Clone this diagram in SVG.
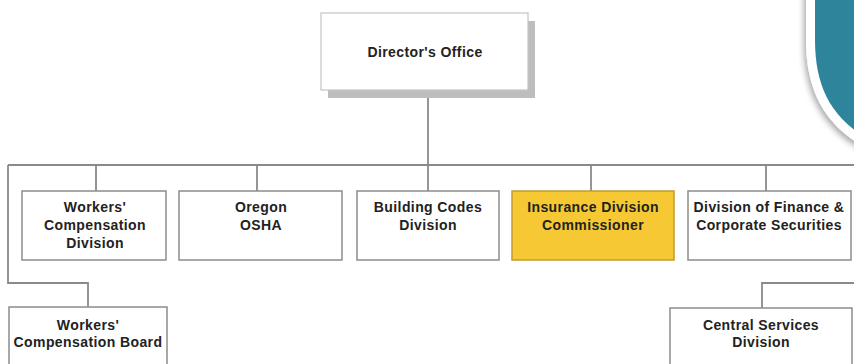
<svg xmlns="http://www.w3.org/2000/svg" width="854" height="364" viewBox="0 0 854 364">
  <style>
    .box { fill: #ffffff; stroke: #8c8c8c; stroke-width: 1.5; }
    .hl { fill: #f6c934; stroke: #c49a2c; stroke-width: 1.5; }
    .wire { fill: none; stroke: #8a8a8a; stroke-width: 1.8; }
    .lbl { font-family: "Liberation Sans", Arial, sans-serif; font-size: 14px; font-weight: bold; fill: #222; text-anchor: middle; letter-spacing: 0.4px; }
  </style>
  <defs>
    <filter id="soft" x="-30%" y="-30%" width="160%" height="160%">
      <feDropShadow dx="-2" dy="3" stdDeviation="3" flood-color="#000" flood-opacity="0.35"/>
    </filter>
  </defs>

  <rect width="854" height="364" fill="#ffffff"/>

  <!-- corner badge -->
  <path d="M815,-20 V40 C815,85 830,118 870,140 V-20 Z" fill="#2e849b" stroke="#ffffff" stroke-width="18" paint-order="stroke" filter="url(#soft)"/>

  <!-- connectors -->
  <g id="connectors">
    <path class="wire" d="M428,90 V165"/>
    <path class="wire" d="M8,165 H854"/>
    <path class="wire" d="M96,165 V191 M257,165 V191 M428,165 V191 M591,165 V191 M766,165 V191"/>
    <path class="wire" d="M8,165 V283 H88 V307" stroke="#9a9a9a"/>
    <path class="wire" d="M854,283 H762 V308"/>
  </g>

  <g id="directors-office">
    <rect x="328" y="21" width="207" height="77" fill="#bdbdbd"/>
    <rect x="321" y="13" width="207" height="77" fill="#ffffff" stroke="#c4c4c4" stroke-width="1.2"/>
    <text class="lbl" x="425" y="57">Director's Office</text>
  </g>

  <g id="workers-comp-division">
    <rect class="box" x="22" y="191" width="144" height="69"/>
    <text class="lbl" x="95" y="212">Workers'</text>
    <text class="lbl" x="95" y="230">Compensation</text>
    <text class="lbl" x="95" y="248">Division</text>
  </g>

  <g id="oregon-osha">
    <rect class="box" x="179" y="191" width="163" height="69"/>
    <text class="lbl" x="261" y="212">Oregon</text>
    <text class="lbl" x="261" y="230">OSHA</text>
  </g>

  <g id="building-codes">
    <rect class="box" x="357" y="191" width="142" height="69"/>
    <text class="lbl" x="428" y="212">Building Codes</text>
    <text class="lbl" x="428" y="230">Division</text>
  </g>

  <g id="insurance-division">
    <rect class="hl" x="512" y="191" width="162" height="69"/>
    <text class="lbl" x="593" y="212">Insurance Division</text>
    <text class="lbl" x="593" y="230">Commissioner</text>
  </g>

  <g id="finance-securities">
    <rect class="box" x="688" y="191" width="163" height="69"/>
    <text class="lbl" x="769" y="212">Division of Finance &amp;</text>
    <text class="lbl" x="769" y="230">Corporate Securities</text>
  </g>

  <g id="workers-comp-board">
    <rect class="box" x="9" y="307" width="158" height="70"/>
    <text class="lbl" x="88" y="330">Workers'</text>
    <text class="lbl" x="88" y="347">Compensation Board</text>
  </g>

  <g id="central-services">
    <rect class="box" x="670" y="308" width="182" height="70"/>
    <text class="lbl" x="761" y="330">Central Services</text>
    <text class="lbl" x="761" y="347">Division</text>
  </g>
</svg>
